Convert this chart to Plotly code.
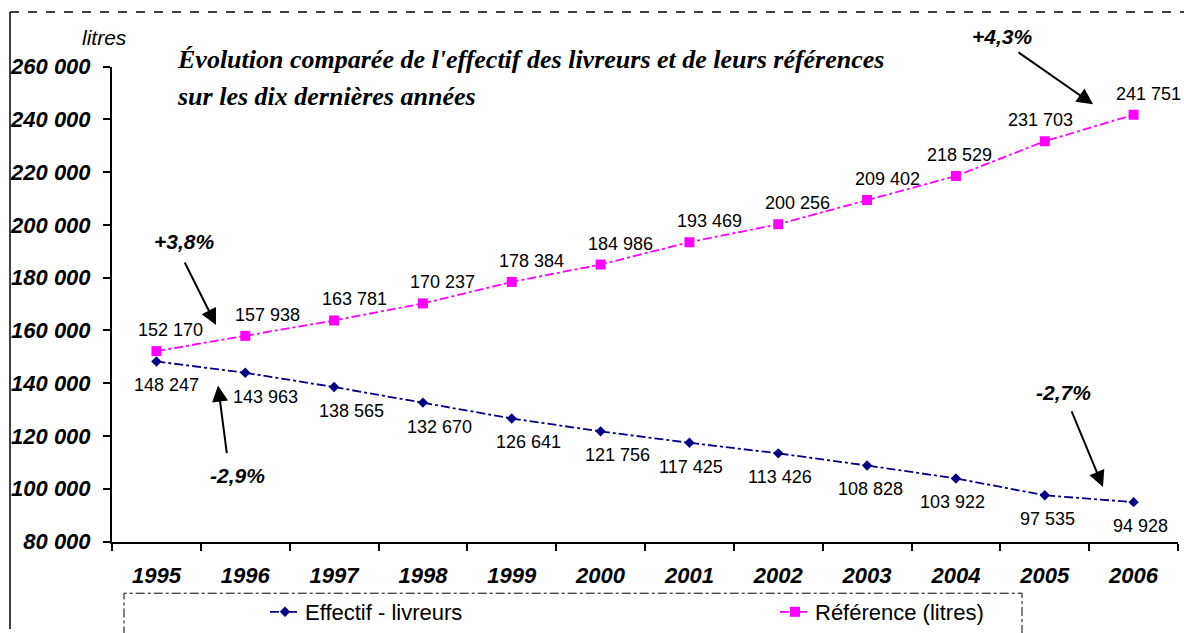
import plotly.graph_objects as go

years = ["1995", "1996", "1997", "1998", "1999", "2000", "2001", "2002", "2003", "2004", "2005", "2006"]
livreurs = [148247, 143963, 138565, 132670, 126641, 121756, 117425, 113426, 108828, 103922, 97535, 94928]
references = [152170, 157938, 163781, 170237, 178384, 184986, 193469, 200256, 209402, 218529, 231703, 241751]
name_livreurs = "Effectif - livreurs"
name_references = "Référence (litres)"
title_line1 = "Évolution comparée de l'effectif des livreurs et de leurs références"
title_line2 = "sur les dix dernières années"
y_unit = "litres"
pct_labels = ["+3,8%", "-2,9%", "+4,3%", "-2,7%"]

# label placement offsets (pixels) as in the original layout
ref_label_dx = [14, 22, 20, 20, 20, 20, 20, 19, 20, 4, -4, 15]
liv_label_dx = [10, 20, 17, 17, 17, 17, 2, 2, 3, -3, 3, 7]

W, H = 1184, 633
PL, PR, PT, PB = 112, 1178, 67, 545  # plot area pixels


def fmt(v):
    return f"{v:,}".replace(",", " ")


def px(x):
    return x / W


def py(y):
    return 1 - y / H


SANS = "Liberation Sans, Arial, sans-serif"
SERIF = "Liberation Serif, Times New Roman, serif"

fig = go.Figure()
fig.add_trace(go.Scatter(
    x=years, y=livreurs, name=name_livreurs, mode="lines+markers",
    line=dict(color="#000080", width=1.8, dash="dashdot"),
    marker=dict(symbol="diamond", size=8, color="#000080"),
    legend="legend",
))
fig.add_trace(go.Scatter(
    x=years, y=references, name=name_references, mode="lines+markers",
    line=dict(color="#FF00FF", width=1.8, dash="dashdot"),
    marker=dict(symbol="square", size=10, color="#FF00FF"),
    legend="legend2",
))

annotations = []
for i, v in enumerate(references):
    annotations.append(dict(xref="x", yref="y", x=i, y=v, text=fmt(v), showarrow=False,
                            xanchor="center", yanchor="middle", xshift=ref_label_dx[i], yshift=21,
                            font=dict(family=SANS, size=18, color="black")))
for i, v in enumerate(livreurs):
    annotations.append(dict(xref="x", yref="y", x=i, y=v, text=fmt(v), showarrow=False,
                            xanchor="center", yanchor="middle", xshift=liv_label_dx[i], yshift=-24,
                            font=dict(family=SANS, size=18, color="black")))

# titles
annotations.append(dict(xref="paper", yref="paper", x=px(175), y=py(60), xanchor="left", yanchor="middle",
                        text=f"<b><i>{title_line1}</i></b>", showarrow=False,
                        font=dict(family=SERIF, size=26, color="black")))
annotations.append(dict(xref="paper", yref="paper", x=px(175), y=py(97), xanchor="left", yanchor="middle",
                        text=f"<b><i>{title_line2}</i></b>", showarrow=False,
                        font=dict(family=SERIF, size=26, color="black")))
annotations.append(dict(xref="paper", yref="paper", x=px(104), y=py(38), xanchor="center", yanchor="middle",
                        text=f"<i>{y_unit}</i>", showarrow=False,
                        font=dict(family=SANS, size=21, color="black")))

# percentage labels and arrows (label centre, arrow tail, arrow tip in pixels)
pct_geom = [
    ((184, 243), (184, 263), (216, 327)),
    ((237, 479), (227, 457), (218, 388)),
    ((1002, 37), (1017, 52), (1093, 105)),
    ((1063, 395), (1071, 413), (1103, 490)),
]
for txt, ((tx, ty), (ax0, ay0), (hx, hy)) in zip(pct_labels, pct_geom):
    annotations.append(dict(xref="paper", yref="paper", x=px(tx), y=py(ty), xanchor="center", yanchor="middle",
                            text=f"<b><i>{txt}</i></b>", showarrow=False,
                            font=dict(family=SANS, size=21, color="black")))
    annotations.append(dict(xref="paper", yref="paper", x=px(hx), y=py(hy), text="", showarrow=True,
                            ax=ax0 - hx, ay=ay0 - hy, arrowhead=2, arrowsize=1.6, arrowwidth=2,
                            arrowcolor="black", standoff=0, startstandoff=0))

shapes = [
    # outer frame: dashed top, solid left
    dict(type="line", xref="paper", yref="paper", x0=px(10), x1=1, y0=py(12), y1=py(12),
         line=dict(color="black", width=1.5, dash="dash")),
    dict(type="line", xref="paper", yref="paper", x0=px(10), x1=px(10), y0=py(12), y1=0,
         line=dict(color="black", width=1.5)),
    # legend box (dashed)
    dict(type="rect", xref="paper", yref="paper", x0=px(124), x1=px(1022), y0=py(640), y1=py(597),
         line=dict(color="black", width=1, dash="dashdot")),
]

legend_common = dict(orientation="h", yanchor="middle", xanchor="left",
                     font=dict(family=SANS, size=22, color="black"), bgcolor="rgba(0,0,0,0)")

fig.update_layout(
    width=W, height=H,
    margin=dict(l=0, r=0, t=0, b=0),
    paper_bgcolor="white", plot_bgcolor="white",
    separators=", ",
    showlegend=True,
    legend=dict(x=px(265), y=py(616), **legend_common),
    legend2=dict(x=px(775), y=py(616), **legend_common),
    annotations=annotations,
    shapes=shapes,
    xaxis=dict(domain=[px(PL), px(PR)], type="category", range=[-0.5, 11.5],
               showline=True, linecolor="black", linewidth=2, ticks="outside", ticklen=7,
               tickcolor="black", tickwidth=2, tickson="boundaries", showgrid=False, zeroline=False,
               tickfont=dict(family=SANS, size=22, color="black"), automargin=False,
               ticklabelstandoff=13),
    yaxis=dict(domain=[py(PB), py(PT)], range=[80000, 260000], dtick=20000, tick0=80000,
               tickformat=",d", showline=True, linecolor="black", linewidth=2, ticks="outside",
               ticklen=7, tickcolor="black", tickwidth=2, showgrid=False, zeroline=False,
               tickfont=dict(family=SANS, size=22, color="black"), automargin=False,
               ticklabelstandoff=8),
)
fig.update_xaxes(tickprefix="<b><i>", ticksuffix="</i></b>")
fig.update_yaxes(tickprefix="<b><i>", ticksuffix="</i></b>")

fig.write_html(
    "out.html",
    config={"displayModeBar": False},
    post_script="document.body.style.margin='0';document.documentElement.style.overflow='hidden';",
)
